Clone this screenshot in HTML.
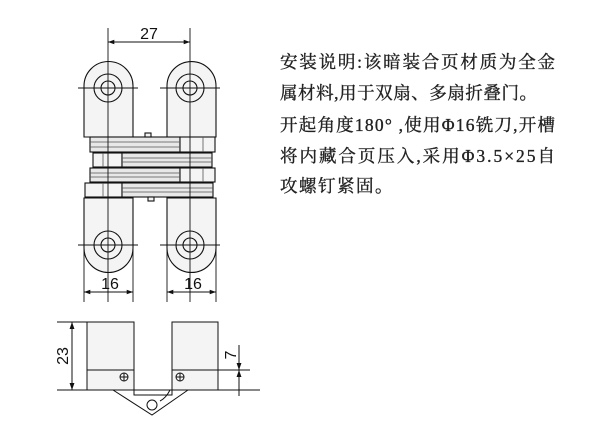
<!DOCTYPE html>
<html><head><meta charset="utf-8"><style>
body{margin:0;background:#fff;}
svg{display:block}
text{font-family:"Liberation Sans",sans-serif;fill:#111}
.cn{font-family:"Liberation Serif","Noto Serif CJK SC",serif;font-size:17.5px;fill:#222;stroke:#222;stroke-width:0.35}
</style></head><body>
<svg width="600" height="445" viewBox="0 0 600 445" xmlns="http://www.w3.org/2000/svg">
<defs>
<marker id="a" viewBox="0 0 10 10" refX="10" refY="5" markerWidth="7" markerHeight="7" orient="auto-start-reverse"><path d="M0,1.5 L10,5 L0,8.5z" fill="#111"/></marker>
</defs>
<g stroke="#111" stroke-width="1.1" fill="#f4f4f4">
<path d="M84,137 V86 A24.5,24.5 0 0 1 133,86 V137 Z"/>
<path d="M167,137 V86 A24.5,24.5 0 0 1 216,86 V137 Z"/>
<path d="M84,198 V248 A24.5,24.5 0 0 0 133,248 V198 Z"/>
<path d="M167,198 V248 A24.5,24.5 0 0 0 216,248 V198 Z"/>
<circle cx="108" cy="88" r="14"/><circle cx="108" cy="88" r="7"/>
<circle cx="190" cy="88" r="14"/><circle cx="190" cy="88" r="7"/>
<circle cx="108" cy="245" r="14"/><circle cx="108" cy="245" r="7"/>
<circle cx="190" cy="245" r="14"/><circle cx="190" cy="245" r="7"/>
<rect x="90" y="137" width="90" height="15" fill="#e8e8e8"/><rect x="180" y="137" width="35" height="15"/>
<rect x="93" y="153" width="29" height="14"/><rect x="122" y="153" width="90" height="14" fill="#e8e8e8"/>
<rect x="90" y="168" width="90" height="14" fill="#e8e8e8"/><rect x="180" y="168" width="35" height="14"/>
<rect x="85" y="183" width="37" height="14"/><rect x="122" y="183" width="91" height="14" fill="#e8e8e8"/>
<rect x="145" y="133" width="6" height="4"/><rect x="148" y="197" width="6" height="4"/>
</g>
<g stroke="#555" stroke-width="0.8">
<line x1="90" y1="142" x2="180" y2="142"/><line x1="90" y1="147" x2="180" y2="147"/>
<line x1="122" y1="158" x2="212" y2="158"/><line x1="122" y1="162" x2="212" y2="162"/>
<line x1="90" y1="173" x2="180" y2="173"/><line x1="90" y1="177" x2="180" y2="177"/>
<line x1="122" y1="188" x2="213" y2="188"/><line x1="122" y1="192" x2="213" y2="192"/>
<line x1="203" y1="137" x2="203" y2="152"/><line x1="203" y1="168" x2="203" y2="182"/>
<line x1="103" y1="153" x2="103" y2="167"/><line x1="103" y1="183" x2="103" y2="197"/>
</g>
<g stroke="#111" stroke-width="0.9" fill="none">
<line x1="108" y1="28" x2="108" y2="302"/><line x1="190" y1="28" x2="190" y2="302"/>
<line x1="84" y1="248" x2="84" y2="302"/><line x1="133" y1="248" x2="133" y2="302"/>
<line x1="167" y1="248" x2="167" y2="302"/><line x1="216" y1="248" x2="216" y2="302"/>
<line x1="78" y1="88" x2="138" y2="88"/><line x1="160" y1="88" x2="220" y2="88"/>
<line x1="78" y1="245" x2="138" y2="245"/><line x1="160" y1="245" x2="220" y2="245"/>
<line x1="108" y1="42" x2="190" y2="42" marker-start="url(#a)" marker-end="url(#a)"/>
<line x1="84" y1="292" x2="133" y2="292" marker-start="url(#a)" marker-end="url(#a)"/>
<line x1="167" y1="292" x2="216" y2="292" marker-start="url(#a)" marker-end="url(#a)"/>
</g>
<text x="149" y="39" font-size="16" text-anchor="middle">27</text>
<text x="110" y="289" font-size="16" text-anchor="middle">16</text>
<text x="193" y="289" font-size="16" text-anchor="middle">16</text>
<g stroke="#111" stroke-width="1" fill="none">
<line x1="57" y1="322" x2="134" y2="322"/>
<line x1="57" y1="390" x2="260" y2="390"/>
<rect x="87" y="322" width="47" height="68" fill="#f4f4f4"/>
<rect x="172" y="322" width="46" height="68" fill="#f4f4f4"/>
<line x1="87" y1="370" x2="134" y2="370"/><line x1="172" y1="370" x2="250" y2="370"/>
<path d="M134,390 V395 H172 V390"/>
<path d="M113,390 L152,415 L188,390"/>
<path d="M170,390 Q166,398 160,401"/>
<circle cx="152" cy="405" r="5" fill="#fff"/>
<circle cx="124" cy="377" r="4"/><path d="M120,377h8M124,373v8"/>
<circle cx="180" cy="377" r="4"/><path d="M176,377h8M180,373v8"/>
<line x1="72" y1="322" x2="72" y2="390" marker-start="url(#a)" marker-end="url(#a)"/>
<line x1="239" y1="345" x2="239" y2="370" marker-end="url(#a)"/>
<line x1="239" y1="390" x2="239" y2="370" marker-end="url(#a)"/>
<line x1="239" y1="390" x2="239" y2="396"/>
</g>
<text font-size="16" transform="translate(68,356) rotate(-90)" text-anchor="middle">23</text>
<text font-size="16" transform="translate(236,355) rotate(-90)" text-anchor="middle">7</text>
<text class="cn" x="280" y="68" textLength="275" lengthAdjust="spacing">安装说明:该暗装合页材质为全金</text>
<text class="cn" x="280" y="99" textLength="257" lengthAdjust="spacing">属材料,用于双扇、多扇折叠门。</text>
<text class="cn" x="280" y="131" textLength="275" lengthAdjust="spacing">开起角度180° ,使用Φ16铣刀,开槽</text>
<text class="cn" x="280" y="162" textLength="275" lengthAdjust="spacing">将内藏合页压入,采用Φ3.5×25自</text>
<text class="cn" x="280" y="192" letter-spacing="1.5">攻螺钉紧固。</text>
</svg>
</body></html>
